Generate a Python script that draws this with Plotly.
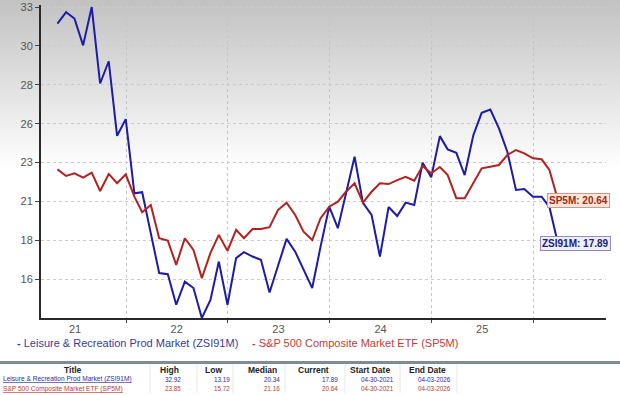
import base64
import numpy as np
import pandas as pd
import plotly.graph_objects as go

# ---------------- data ----------------
DATES = pd.date_range("2021-04-30", periods=60, freq="ME")

ZSI91M = [31.87, 32.60, 32.19, 30.49, 32.92, 28.07, 29.48, 24.75, 25.81, 21.10,
          21.17, 18.57, 16.04, 15.97, 14.03, 15.50, 15.09, 13.19, 14.34, 16.77,
          14.03, 16.99, 17.37, 17.09, 16.88, 14.81, 16.45, 18.21, 17.40, 16.25,
          15.09, 17.72, 20.25, 18.89, 21.12, 23.42, 20.49, 19.73, 17.09, 20.23,
          19.66, 20.51, 20.36, 23.04, 22.12, 24.73, 23.89, 23.67, 22.26, 24.79,
          26.21, 26.42, 25.22, 23.74, 21.31, 21.37, 20.89, 20.89, 20.23, 17.89]

SP5M = [22.62, 22.20, 22.37, 22.09, 22.41, 21.25, 22.33, 21.74, 22.31, 20.89,
        19.90, 20.36, 18.25, 18.10, 16.56, 18.25, 17.51, 15.72, 17.32, 18.46,
        17.45, 18.78, 18.25, 18.84, 18.84, 18.95, 20.04, 20.51, 19.73, 18.67,
        18.14, 19.52, 20.25, 20.57, 21.20, 21.74, 20.51, 21.20, 21.74, 21.69,
        21.94, 22.15, 21.90, 22.83, 22.37, 22.77, 22.26, 20.79, 20.79, 21.74,
        22.69, 22.79, 22.90, 23.53, 23.85, 23.64, 23.32, 23.26, 22.58, 20.64]

SERIES_NAMES = ["Leisure & Recreation Prod Market (ZSI91M)",
                "S&P 500 Composite Market ETF (SP5M)"]
SHORT_NAMES = ["ZSI91M", "SP5M"]

Y_TICK_LABELS = ["33", "30", "28", "26", "23", "21", "18", "16"]
X_TICK_LABELS = ["21", "22", "23", "24", "25"]
X_TICK_DATES = ["2021-07-02", "2022-07-02", "2023-07-02", "2024-07-02", "2025-07-02"]
YEAR_STARTS = ["2022-01-01", "2023-01-01", "2024-01-01", "2025-01-01", "2026-01-01"]

TABLE_HEADERS = ["Title", "High", "Low", "Median", "Current", "Start Date", "End Date"]
HIGH = ["32.92", "23.85"]
LOW = ["13.19", "15.72"]
MEDIAN = ["20.34", "21.16"]
CURRENT = ["17.89", "20.64"]
START_DATE = ["04-30-2021", "04-30-2021"]
END_DATE = ["04-03-2026", "04-03-2026"]

# ---------------- style ----------------
BLUE = "#1c1ca6"
RED = "#b3221f"
W, H = 620, 395
ML, MR, MT, MB = 41, 14, 5, 77
PW, PH = W - ML - MR, H - MT - MB


def px(x):
    return (x - ML) / PW


def py(y):
    return (H - MB - y) / PH


hi, lo = float(HIGH[0]), float(LOW[0])
tickvals = list(np.linspace(hi, lo, 9)[:-1])

fig = go.Figure()
fig.add_trace(go.Scatter(x=DATES, y=ZSI91M, mode="lines", name=SERIES_NAMES[0],
                         line=dict(color=BLUE, width=2)))
fig.add_trace(go.Scatter(x=DATES, y=SP5M, mode="lines", name=SERIES_NAMES[1],
                         line=dict(color=RED, width=2)))

svg = ('<svg xmlns="http://www.w3.org/2000/svg" width="620" height="395" preserveAspectRatio="none">'
       '<defs><linearGradient id="g" x1="0" y1="0" x2="0" y2="1">'
       '<stop offset="0" stop-color="#c2c2c2"/><stop offset="0.43" stop-color="#ffffff"/>'
       '</linearGradient></defs><rect width="620" height="395" fill="url(#g)"/></svg>')
src = "data:image/svg+xml;base64," + base64.b64encode(svg.encode()).decode()

fig.update_layout(
    width=W, height=H,
    margin=dict(l=ML, r=MR, t=MT, b=MB, pad=0, autoexpand=False),
    paper_bgcolor="white",
    plot_bgcolor="rgba(0,0,0,0)",
    showlegend=False,
    font=dict(family="Liberation Sans, Arial, sans-serif", color="#444"),
    images=[dict(source=src, xref="paper", yref="paper", x=px(0), y=py(0),
                 sizex=W / PW, sizey=H / PH, xanchor="left", yanchor="top",
                 sizing="stretch", layer="below")],
    xaxis=dict(
        range=["2021-03-02", "2026-09-19"],
        automargin=False,
        tickvals=X_TICK_DATES, ticktext=X_TICK_LABELS,
        showgrid=False, zeroline=False,
        showline=True, linecolor="#2a2a2a", linewidth=2,
        ticks="", tickfont=dict(size=11, color="#555"),
        minor=dict(tickvals=YEAR_STARTS, showgrid=True, gridcolor="#c4c4c4",
                   griddash="dot", gridwidth=1, ticks="outside", ticklen=3,
                   tickcolor="#444"),
    ),
    yaxis=dict(
        range=[lo, 33.05],
        automargin=False,
        tickvals=tickvals, ticktext=Y_TICK_LABELS,
        showgrid=True, gridcolor="#cbcbcb", griddash="dot", gridwidth=1,
        zeroline=False, showline=True, linecolor="#2a2a2a", linewidth=2,
        ticks="outside", ticklen=4, tickcolor="#444",
        tickfont=dict(size=11, color="#555"),
    ),
)

ann = []
# end-of-line value labels
ann.append(dict(x=DATES[-1], y=SP5M[-1], xref="x", yref="y", xanchor="left", yanchor="middle",
                xshift=-11, showarrow=False,
                text=f"<b>{SHORT_NAMES[1]}: {CURRENT[1]}</b>",
                font=dict(size=10, color="#9e2a17"),
                bgcolor="#fbe4d8", bordercolor="#d99680", borderwidth=1, borderpad=1))
ann.append(dict(x=DATES[-1], y=ZSI91M[-1], xref="x", yref="y", xanchor="left", yanchor="middle",
                xshift=-18, showarrow=False,
                text=f"<b>{SHORT_NAMES[0]}: {CURRENT[0]}</b>",
                font=dict(size=10, color="#20207e"),
                bgcolor="#eeeef9", bordercolor="#8c8cc6", borderwidth=1, borderpad=1))

# legend as text
ann.append(dict(x=px(15), y=py(343), xref="paper", yref="paper", xanchor="left", yanchor="middle",
                showarrow=False, text="<b>-</b> " + SERIES_NAMES[0],
                font=dict(size=11, color="#3a3a9c")))
ann.append(dict(x=px(250), y=py(343), xref="paper", yref="paper", xanchor="left", yanchor="middle",
                showarrow=False, text="<b>-</b> " + SERIES_NAMES[1],
                font=dict(size=11, color="#bf3d3d")))

# table header
col_centers = [73, 169, 213, 262, 313, 370, 427]
for txt, cx in zip(TABLE_HEADERS, col_centers):
    ann.append(dict(x=px(cx), y=py(369.5), xref="paper", yref="paper", xanchor="center",
                    yanchor="middle", showarrow=False, text=f"<b>{txt}</b>",
                    font=dict(size=8.5, color="#222")))

row_y = [379, 388.5]
row_colors = ["#2a2aa8", "#c0392b"]
right_edges = [183, 232, 282, 340, 396, 453]
for i in range(2):
    ann.append(dict(x=px(1), y=py(row_y[i]), xref="paper", yref="paper", xanchor="left",
                    yanchor="middle", showarrow=False,
                    text=f'<span style="text-decoration:underline">{SERIES_NAMES[i]}</span>',
                    font=dict(size=6.6, color=row_colors[i])))
    vals = [HIGH[i], LOW[i], MEDIAN[i], CURRENT[i], START_DATE[i], END_DATE[i]]
    for v, rx in zip(vals, right_edges):
        ann.append(dict(x=px(rx), y=py(row_y[i]), xref="paper", yref="paper", xanchor="right",
                        yanchor="middle", showarrow=False, text=v,
                        font=dict(size=6.3, color=row_colors[i])))
fig.update_layout(annotations=ann)

shapes = [dict(type="line", xref="paper", yref="paper", x0=px(0), x1=px(W),
               y0=py(362.5), y1=py(362.5), line=dict(color="#7f8b98", width=3))]
for sx in [150, 197, 233, 285, 345, 400, 457]:
    shapes.append(dict(type="line", xref="paper", yref="paper", x0=px(sx), x1=px(sx),
                       y0=py(364), y1=py(393), line=dict(color="#e6e6e6", width=1)))
fig.update_layout(shapes=shapes)

fig.write_html("out.html", config={"displayModeBar": False},
               post_script="document.body.style.margin='0';")
